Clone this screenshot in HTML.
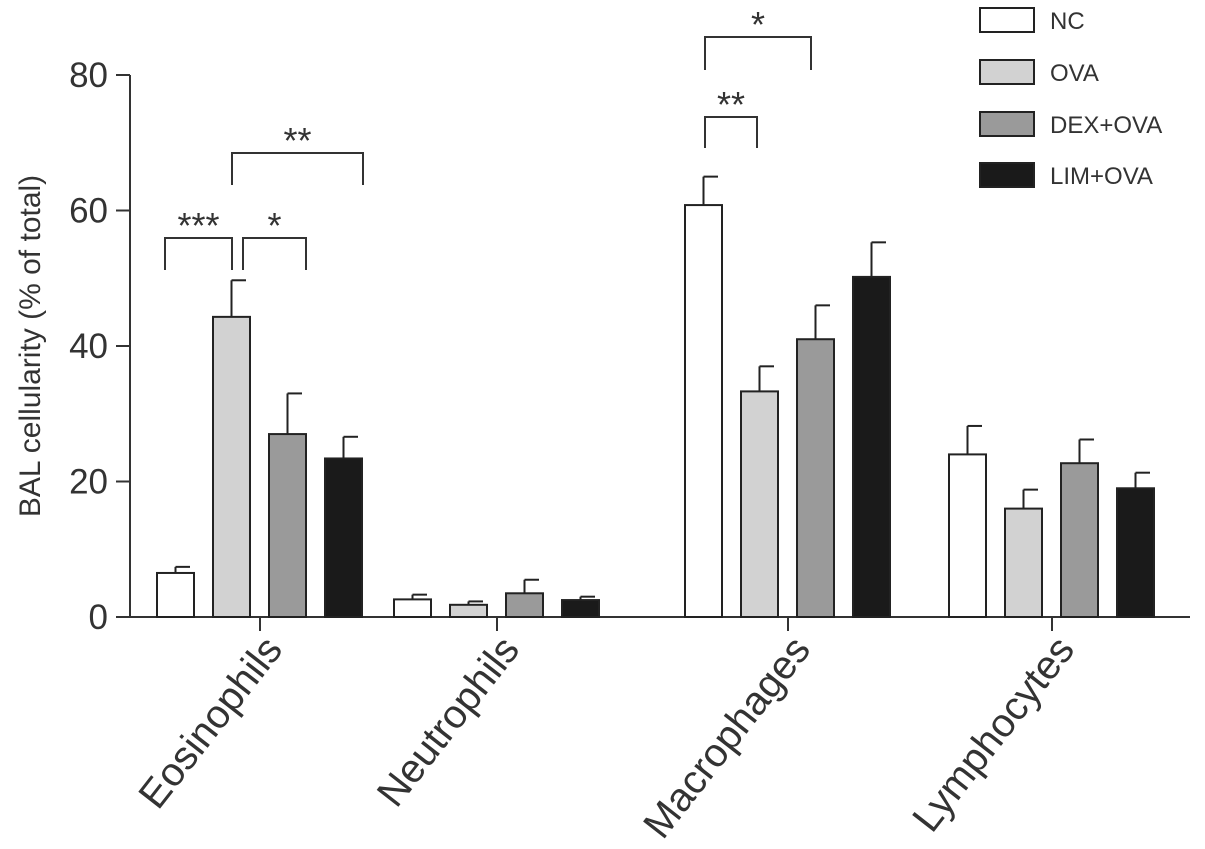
<!DOCTYPE html>
<html><head><meta charset="utf-8"><style>
body{margin:0;background:#fff}
svg{display:block;font-family:"Liberation Sans",Arial,sans-serif}
</style></head><body>
<svg id="chart" width="1205" height="849"></svg>
<script>
const categories=["Eosinophils","Neutrophils","Macrophages","Lymphocytes"];
const groups=["NC","OVA","DEX+OVA","LIM+OVA"];
const ncValues=[6.5,2.6,60.8,24];
const ovaValues=[44.3,1.8,33.3,16];
const dexValues=[27,3.5,41,22.7];
const limValues=[23.4,2.5,50.2,19];
const ncErr=[0.9,0.7,4.2,4.2];
const ovaErr=[5.4,0.5,3.7,2.8];
const dexErr=[6,2,5,3.5];
const limErr=[3.2,0.5,5.1,2.3];
const yTicks=[0,20,40,60,80];
const fills=["#ffffff","#d2d2d2","#9a9a9a","#1a1a1a"];
const series=[ncValues,ovaValues,dexValues,limValues];
const errs=[ncErr,ovaErr,dexErr,limErr];
const groupCenters=[260,497,788,1052];
const NS="http://www.w3.org/2000/svg";
const svg=document.getElementById('chart');
function y(v){return 617-v*542/80;}
function barX(g,s){return groupCenters[g]-103+s*56;}
function mk(t,a,p){const e=document.createElementNS(NS,t);for(const k in a)e.setAttribute(k,a[k]);(p||svg).appendChild(e);return e;}
let e=mk('line',{x1:130,y1:617,x2:1190,y2:617,stroke:'#333','stroke-width':2});


e=mk('line',{x1:130,y1:y(80),x2:130,y2:617,stroke:'#333','stroke-width':2});


yTicks.forEach(t=>{
 mk('line',{x1:116,y1:y(t),x2:130,y2:y(t),stroke:'#333','stroke-width':2});
 const tx=mk('text',{x:108,y:y(t)+12,'text-anchor':'end','font-size':35,fill:'#333'});
 tx.textContent=t;
 
 
});
const yl=mk('text',{x:0,y:0,transform:'translate(40,346) rotate(-90)','text-anchor':'middle','font-size':30,fill:'#333'});
yl.textContent='BAL cellularity (% of total)';


categories.forEach((c,g)=>{
 const cx=groupCenters[g];
 mk('line',{x1:cx,y1:617,x2:cx,y2:631,stroke:'#333','stroke-width':2});
 const t=mk('text',{x:0,y:0,transform:`translate(${cx+24},650) rotate(-52)`,'text-anchor':'end','font-size':40,fill:'#333'});
 t.textContent=c;
 
 
 series.forEach((vals,s)=>{
  const x=barX(g,s),v=vals[g],top=v+errs[s][g];
  mk('line',{x1:x+18.5,y1:y(top),x2:x+18.5,y2:y(v),stroke:'#222','stroke-width':2});
  mk('line',{x1:x+18.5,y1:y(top),x2:x+33,y2:y(top),stroke:'#222','stroke-width':2});
  const r=mk('rect',{x:x,y:y(v),width:37,height:617-y(v),fill:fills[s],stroke:'#222','stroke-width':2});
  
  
 });
});
function bracket(x1,x2,top,bottom,label,ty){
 mk('path',{d:`M${x1},${bottom}V${top}H${x2}V${bottom}`,fill:'none',stroke:'#333','stroke-width':2});
 const t=mk('text',{x:(x1+x2)/2,y:ty,'text-anchor':'middle','font-size':36,fill:'#333'});
 t.textContent=label;
 
 
}
bracket(165,232,238,270,'***',238);
bracket(243,306,238,270,'*',238);
bracket(232,363,153,185,'**',153);
bracket(705,757,117,148,'**',117);
bracket(705,811,37,70,'*',37);
const ly=[8,60,112,163];
groups.forEach((g,i)=>{
 const r=mk('rect',{x:980,y:ly[i],width:54,height:24,fill:fills[i],stroke:'#222','stroke-width':2});
 
 
 const t=mk('text',{x:1050,y:ly[i]+21,'font-size':24,fill:'#333'});
 t.textContent=g;
 
 
});
</script>
</body></html>
